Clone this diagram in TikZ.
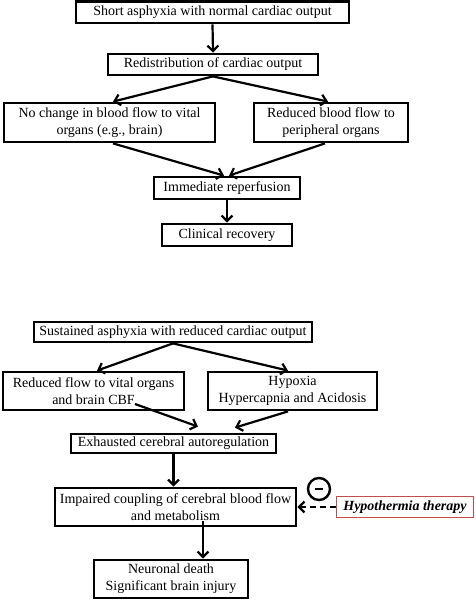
\documentclass[tikz,border=0pt]{standalone}
\usepackage{fontspec}
\setmainfont{Liberation Serif}
\usetikzlibrary{arrows.meta,calc}
\definecolor{hred}{RGB}{192,80,77}
\begin{document}
\begin{tikzpicture}[x=1pt,y=-1pt,
  box/.style={draw,line width=2.8pt,inner sep=0pt,align=center,font=\fontsize{14}{17}\selectfont},
  arr/.style={line width=2.2pt,-{Straight Barb[length=5.5pt,width=11pt,line width=2.2pt]}},
  redbox/.style={draw=hred,line width=1.5pt,inner sep=0pt,font=\fontsize{14}{17}\selectfont\bfseries\itshape},
]
\useasboundingbox (0,0) rectangle (475,601);
% top flow
\node[box,minimum width=273,minimum height=21.5] (b1) at (212.5,12.25) {Short asphyxia with normal cardiac output};
\node[box,minimum width=210,minimum height=21] (b2) at (213,64.5) {Redistribution of cardiac output};
\node[box,minimum width=211,minimum height=39] (b3) at (109.5,122.5) {No change in blood flow to vital\\organs (e.g., brain)};
\node[box,minimum width=154,minimum height=39] (b4) at (331,122.5) {Reduced blood flow to\\peripheral organs};
\node[box,minimum width=146,minimum height=22] (b5) at (227,188) {Immediate reperfusion};
\node[box,minimum width=130,minimum height=22] (b6) at (227,235) {Clinical recovery};
\draw[arr] (b1.south) -- (b2.north);
\draw[arr] (b2.south) -- ($(b3.north)+(3.5,0)$);
\draw[arr] (b2.south) -- ($(b4.north)+(-3,0)$);
\draw[arr] ($(b3.south)+(3.5,0)$) -- ($(b5.north)+(-3,0)$);
\draw[arr] ($(b4.south)+(-6,0)$) -- ($(b5.north)+(2,0)$);
\draw[arr] (b5.south) -- (b6.north);
% bottom flow
\node[box,minimum width=278,minimum height=20] (b7) at (173,332) {Sustained asphyxia with reduced cardiac output};
\node[box,minimum width=181,minimum height=38] (b8) at (93.5,391) {Reduced flow to vital organs\\and brain CBF};
\node[box,minimum width=169,minimum height=38] (b9) at (292.5,391) {Hypoxia\\Hypercapnia and Acidosis};
\node[box,minimum width=205,minimum height=19] (b10) at (173.5,443.5) {Exhausted cerebral autoregulation};
\node[box,minimum width=241,minimum height=38] (b11) at (175.5,507) {Impaired coupling of cerebral blood flow\\and metabolism};
\node[box,minimum width=154,minimum height=38] (b12) at (171,579) {Neuronal death\\Significant brain injury};
\node[redbox,minimum width=137,minimum height=21] (hypo) at (405,507) {Hypothermia therapy};
\node[draw,circle,line width=2.4pt,minimum size=22,inner sep=0pt] (neg) at (319,489) {};
\coordinate (c1) at (135,404);
\coordinate (c2) at (203,521);
\draw[arr] (b7.south) -- ($(b8.north)+(3.5,0)$);
\draw[arr] (b7.south) -- ($(b9.north)+(-4.5,0)$);
\draw[arr] (c1) -- ($(b10.north)+(24.5,-6)$);
\draw[arr] ($(b9.south)+(-4.5,0)$) -- ($(b10.north)+(61.5,-5)$);
\draw[arr] (b10.south) -- (b10.south |- b11.north);
\draw[arr] (c2) -- (c2 |- b12.north);
\draw[arr,dash pattern=on 6pt off 4pt] (hypo.west) -- (b11.east);
\draw[line width=2.8pt] ($(neg.center)+(-4,0)$) -- ($(neg.center)+(4,0)$);
\end{tikzpicture}
\end{document}
